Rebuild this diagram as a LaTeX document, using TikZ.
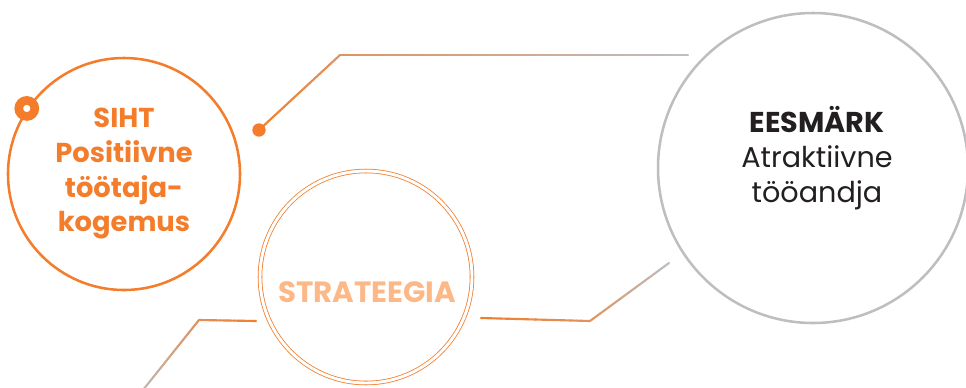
\documentclass[tikz,border=0pt]{standalone}
\usepackage{fontspec}
\setmainfont{Poppins}
\usetikzlibrary{calc, positioning}

\definecolor{sihtorange}{RGB}{243,125,43}
\definecolor{stratorange}{RGB}{252,184,134}
\definecolor{ringgray}{RGB}{190,190,193}
\definecolor{textdark}{RGB}{35,31,32}

\tikzset{
  link/.style={line width=1.6pt, line cap=round},
  bigtext/.style={font=\fontsize{20}{26}\selectfont, align=center}
}

% one leg of a fading connector: from #1 to #2, orange share #3 -> #4
\newcommand{\fadeleg}[4]{%
  \foreach \k in {0,...,15} {
    \pgfmathsetmacro{\pct}{#3+(#4-#3)*(\k+0.5)/16}
    \draw[link, draw=sihtorange!\pct!ringgray]
      ($(#1)!\k/16!(#2)$) -- ($(#1)!{(\k+1)/16}!(#2)$);
  }
}

\begin{document}
\begin{tikzpicture}[x=0.75pt, y=-0.75pt]
\useasboundingbox (0,0) rectangle (966,387);
\clip (0,0) rectangle (966,387);
% circles
\node[circle, draw=sihtorange, line width=1.9pt, minimum size=174pt,
  bigtext, text=sihtorange, font=\fontsize{20.5}{26}\selectfont\bfseries]
  (siht) at (124,174) {SIHT\\Positiivne\\töötaja-\\kogemus};
\node[circle, draw=ringgray, line width=1.9pt, minimum size=232.5pt]
  (eesm) at (813,168) {};
\node[circle, draw=sihtorange, double=white, double distance=2.2pt,
  line width=0.6pt, minimum size=159pt] (strat) at (366,277) {};
% texts
\node[bigtext, text=textdark, font=\fontsize{21.5}{26}\selectfont] (eesmtxt) at (817,158)
  {\textbf{EESMÄRK}\\Atraktiivne\\tööandja};
\node[bigtext, text=stratorange, font=\fontsize{22}{26}\selectfont\bfseries]
  (strattxt) at (367,292) {STRATEEGIA};
% markers
\node[circle, draw=sihtorange, fill=white, line width=6.5pt, minimum size=12pt,
  inner sep=0pt] (ring) at (siht.146) {};
\node[circle, fill=sihtorange, minimum size=10pt, inner sep=0pt]
  (dot) at (259,130) {};
% connector points
\coordinate (t1) at (340,55);
\coordinate (t2) at (688,55);
\coordinate (r0) at (481,318);
\coordinate (r1) at (590,321);
\coordinate (r2) at (669,263);
\coordinate (l0) at (256,321);
\coordinate (l1) at (199,320);
\coordinate (l2) at (135,400);
% connectors
\fadeleg{dot.center}{t1}{100}{65}
\fadeleg{t1}{t2}{65}{0}
\fadeleg{r0}{r1}{100}{65}
\fadeleg{r1}{r2}{65}{0}
\fadeleg{l0}{l1}{100}{70}
\fadeleg{l1}{l2}{70}{0}
\end{tikzpicture}
\end{document}
